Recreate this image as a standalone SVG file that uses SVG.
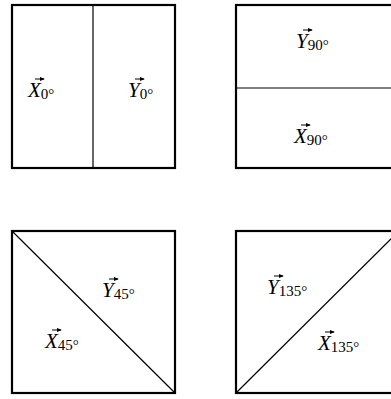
<svg xmlns="http://www.w3.org/2000/svg" width="391" height="399" viewBox="0 0 391 399">
<defs>
<marker id="ah" viewBox="0 0 6 6" refX="5" refY="3" markerWidth="5" markerHeight="5" markerUnits="userSpaceOnUse" orient="auto">
<path d="M0,0.5 L6,3 L0,5.5 z" fill="#000"/>
</marker>
</defs>
<style>
.box{fill:#fff;stroke:#000;stroke-width:2.2}
.div{stroke:#000;stroke-width:1.2;fill:none}
.v{font-family:"Liberation Serif",serif;font-style:italic;font-size:21px;fill:#000}
.s{font-family:"Liberation Serif",serif;font-style:normal;font-size:15px}
.vec{stroke:#000;stroke-width:1;fill:none;marker-end:url(#ah)}
</style>
<rect width="391" height="399" fill="#fff"/>
<g id="sq0">
<rect class="box" x="12" y="5" width="163" height="163"/>
<line class="div" x1="93" y1="5" x2="93" y2="168"/>
<text class="v" x="28" y="97">X<tspan class="s" dy="2">0°</tspan></text>
<line class="vec" x1="35" y1="79" x2="44" y2="79"/>
<text class="v" x="128" y="97">Y<tspan class="s" dy="2">0°</tspan></text>
<line class="vec" x1="135" y1="79" x2="144" y2="79"/>
</g>
<g id="sq90">
<rect class="box" x="236" y="5" width="163" height="163"/>
<line class="div" x1="236" y1="88" x2="399" y2="88"/>
<text class="v" x="296" y="48">Y<tspan class="s" dy="2">90°</tspan></text>
<line class="vec" x1="303" y1="30" x2="312" y2="30"/>
<text class="v" x="294" y="143">X<tspan class="s" dy="2">90°</tspan></text>
<line class="vec" x1="301" y1="125" x2="310" y2="125"/>
</g>
<g id="sq45">
<rect class="box" x="12" y="231" width="163" height="162"/>
<line class="div" x1="12" y1="231" x2="175" y2="393"/>
<text class="v" x="102" y="297">Y<tspan class="s" dy="2">45°</tspan></text>
<line class="vec" x1="109" y1="279" x2="118" y2="279"/>
<text class="v" x="45" y="348">X<tspan class="s" dy="2">45°</tspan></text>
<line class="vec" x1="52" y1="330" x2="61" y2="330"/>
</g>
<g id="sq135">
<rect class="box" x="236" y="231" width="163" height="162"/>
<line class="div" x1="236" y1="393" x2="399" y2="231"/>
<text class="v" x="267" y="294">Y<tspan class="s" dy="2">135°</tspan></text>
<line class="vec" x1="274" y1="276" x2="283" y2="276"/>
<text class="v" x="318" y="350">X<tspan class="s" dy="2">135°</tspan></text>
<line class="vec" x1="325" y1="332" x2="334" y2="332"/>
</g>
</svg>
